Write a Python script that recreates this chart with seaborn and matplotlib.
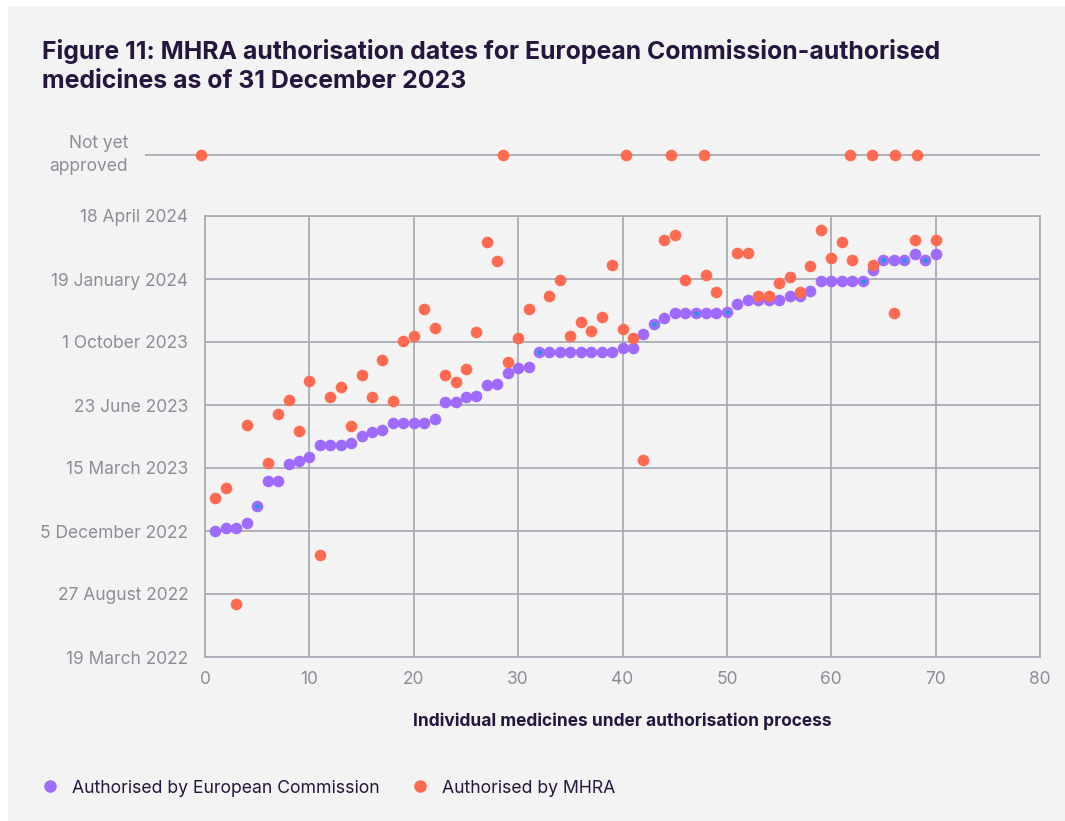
import matplotlib
matplotlib.use("Agg")
import matplotlib.pyplot as plt
from matplotlib.patches import Rectangle
from matplotlib.lines import Line2D
import seaborn as sns
import pandas as pd

# y values are in gridline units: 0 = 19 March 2022 ... 7 = 18 April 2024
date_labels = ["19 March 2022", "27 August 2022", "5 December 2022", "15 March 2023",
               "23 June 2023", "1 October 2023", "19 January 2024", "18 April 2024"]

medicine = list(range(1, 71))

ec_pos = [2.00, 2.05, 2.05, 2.13, 2.39, 2.79, 2.79, 3.07, 3.11, 3.17,
          3.36, 3.36, 3.36, 3.40, 3.51, 3.57, 3.61, 3.71, 3.71, 3.71,
          3.71, 3.78, 4.04, 4.04, 4.13, 4.14, 4.31, 4.34, 4.50, 4.59,
          4.61, 4.84, 4.84, 4.84, 4.84, 4.84, 4.84, 4.84, 4.84, 4.90,
          4.90, 5.12, 5.29, 5.38, 5.46, 5.46, 5.46, 5.46, 5.46, 5.48,
          5.61, 5.67, 5.67, 5.67, 5.67, 5.73, 5.73, 5.81, 5.97, 5.97,
          5.97, 5.97, 5.97, 6.15, 6.30, 6.30, 6.30, 6.40, 6.30, 6.40]

# None = not yet approved by MHRA
mhra_pos = [2.53, 2.68, 0.84, 3.68, None, 3.08, 3.85, 4.08, 3.58, 4.38,
            1.62, 4.12, 4.29, 3.66, 4.47, 4.12, 4.71, 4.06, 5.01, 5.10,
            5.52, 5.22, 4.47, 4.36, 4.57, 5.16, 6.58, 6.28, 4.69, 5.07,
            5.52, None, 5.73, 5.98, 5.10, 5.31, 5.18, 5.39, 6.22, 5.20,
            5.07, 3.13, None, 6.62, 6.70, 5.98, None, 6.07, 5.79, None,
            6.41, 6.41, 5.73, 5.73, 5.94, 6.03, 5.79, 6.20, 6.77, 6.34,
            6.58, 6.30, None, 6.22, None, 5.46, None, 6.62, None, 6.62]

df = pd.DataFrame({"medicine": medicine, "ec": ec_pos, "mhra": mhra_pos})
pending = df[df["mhra"].isna()]

PURPLE = "#9f6bff"
ORANGE = "#ff6a50"
BLUE = "#1d9bd5"
GRID = "#a9adb6"
TICK = "#8b8e98"
DARK = "#25163d"

sns.set_theme(style="white")
plt.rcParams["font.family"] = ["Inter", "DejaVu Sans"]

fig = plt.figure(figsize=(10.65, 8.21), dpi=100, facecolor="white")
fig.patches.append(Rectangle((8 / 1065, 0), 1, 1 - 6 / 821, transform=fig.transFigure,
                             facecolor="#f3f3f3", edgecolor="none", zorder=-10))

ax = fig.add_axes([205 / 1065, 164 / 821, 835 / 1065, 441 / 821])
ax.set_facecolor("#f3f3f3")

sns.scatterplot(data=df, x="medicine", y="ec", color=PURPLE, s=70, linewidth=0,
                ax=ax, zorder=3, clip_on=False)
sns.scatterplot(data=df.dropna(), x="medicine", y="mhra", color=ORANGE, s=70,
                linewidth=0, ax=ax, zorder=4, clip_on=False)
sns.scatterplot(data=pending, x="medicine", y="ec", color=BLUE, s=10, linewidth=0,
                ax=ax, zorder=5, clip_on=False)

ax.set_xlim(0, 80)
ax.set_ylim(0, 7)
ax.set_xticks(range(0, 81, 10))
ax.set_yticks(range(0, 8))
ax.set_yticklabels(date_labels)
ax.grid(True, color=GRID, linewidth=1.3)
ax.set_axisbelow(True)
for sp in ax.spines.values():
    sp.set_color(GRID)
    sp.set_linewidth(1.3)
ax.tick_params(axis="both", length=0, labelsize=12.5, labelcolor=TICK)
ax.tick_params(axis="y", pad=12)
ax.tick_params(axis="x", pad=10)
ax.set_xlabel("Individual medicines under authorisation process", fontsize=12.5,
              fontweight="bold", color=DARK, labelpad=18)
ax.set_ylabel("")

# "Not yet approved" strip above the main panel
top = fig.add_axes([145 / 1065, (821 - 155) / 821 - 0.02, 895 / 1065, 0.04])
top.axis("off")
top.set_xlim(0, 80)
top.set_ylim(-1, 1)
top.axhline(0, color=GRID, linewidth=1.3, zorder=1)
sns.scatterplot(x=pending["medicine"], y=[0] * len(pending), color=ORANGE, s=70,
                linewidth=0, ax=top, zorder=3, clip_on=False)
fig.text(128 / 1065, (821 - 155) / 821, "Not yet\napproved", ha="right", va="center",
         fontsize=12.5, color=TICK, linespacing=1.5)

fig.text(42 / 1065, (821 - 66) / 821,
         "Figure 11: MHRA authorisation dates for European Commission-authorised\n"
         "medicines as of 31 December 2023",
         ha="left", va="center", fontsize=17.9, fontweight="bold", color=DARK,
         linespacing=1.38)

handles = [Line2D([], [], marker="o", linestyle="", color=PURPLE, markersize=8),
           Line2D([], [], marker="o", linestyle="", color=ORANGE, markersize=8)]
fig.legend(handles, ["Authorised by European Commission", "Authorised by MHRA"],
           loc="center left", bbox_to_anchor=(16 / 1065, 33 / 821), ncol=2,
           frameon=False, fontsize=12.7, handletextpad=0.25, columnspacing=1.3,
           labelcolor=DARK)

fig.savefig("out.png", dpi=100, facecolor="white")
